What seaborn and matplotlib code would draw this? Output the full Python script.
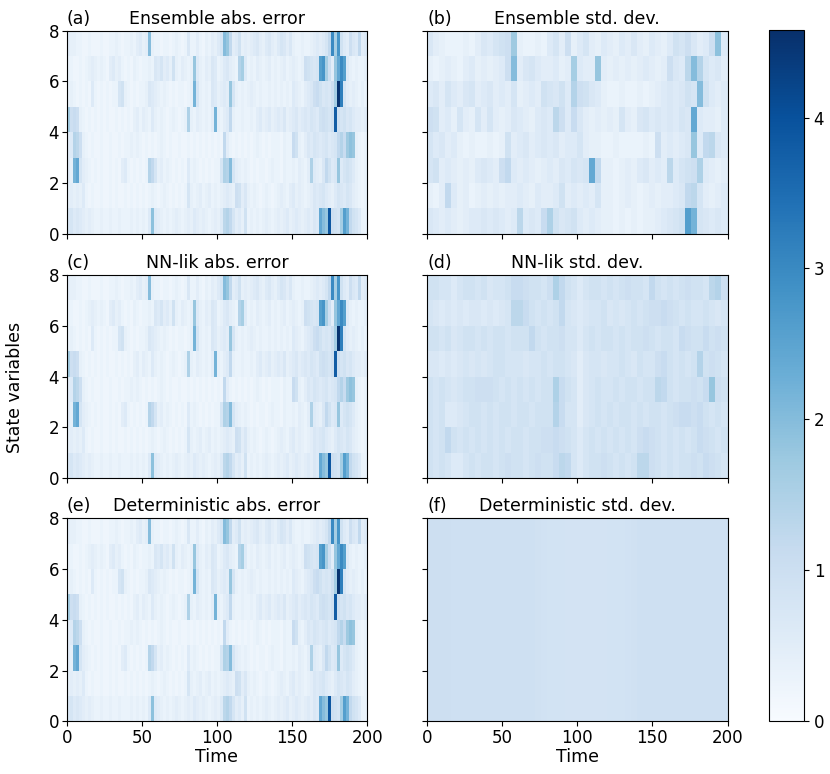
import numpy as np
import pandas as pd
import seaborn as sns
import matplotlib.pyplot as plt

T_MAX = 200
TIME_TICKS = [0, 50, 100, 150, 200]
STATE_TICKS = [0, 2, 4, 6, 8]
VMAX = 4.58

# absolute error, 8 state variables x 100 bins of 2 time units (row 0 = state 0)
# panels (a), (c) and (e) are the same by eye, so one reading serves all three
abs_err = [
    [0.7,0.8,0.6,0.7,0.6,0.5,0.4,0.5,0.4,0.3, 0.3,0.4,0.3,0.3,0.4,0.3,0.3,0.4,0.3,0.3,
     0.3,0.4,0.3,0.4,0.3,0.4,0.3,0.6,1.9,0.6, 0.5,0.4,0.3,0.4,0.3,0.4,0.5,0.4,0.3,0.4,
     0.5,0.4,0.6,0.5,0.4,0.5,0.4,0.3,0.4,0.5, 0.4,0.6,1.3,1.4,1.2,0.8,0.5,0.6,0.4,0.9,
     0.3,0.4,0.3,0.4,0.3,0.4,0.5,0.4,0.3,0.4, 0.5,0.4,0.5,0.6,0.4,0.5,0.6,0.5,0.4,0.5,
     0.6,0.5,0.7,0.6,2.4,2.0,1.8,3.9,1.0,0.9, 0.8,1.6,2.6,2.2,1.2,0.9,0.8,0.6,0.3,0.3],
    [0.4,0.5,0.4,0.5,0.4,0.6,0.3,0.2,0.3,0.2, 0.2,0.3,0.2,0.2,0.3,0.2,0.3,0.2,0.2,0.3,
     0.2,0.3,0.2,0.3,0.2,0.3,0.2,0.3,0.4,0.3, 0.2,0.3,0.4,0.3,0.2,0.3,0.2,0.3,0.2,0.3,
     0.8,0.4,0.3,0.4,0.5,0.3,0.4,0.5,0.3,0.4, 0.3,0.4,0.5,0.6,0.5,0.4,1.0,0.9,0.5,0.7,
     0.4,0.3,0.4,0.3,0.2,0.3,0.4,0.3,0.2,0.3, 0.4,0.5,0.4,0.3,0.5,0.6,0.4,0.5,0.4,0.3,
     0.4,0.5,0.7,0.6,0.7,0.8,0.6,0.5,0.4,0.6, 0.8,0.7,0.6,0.8,0.7,0.5,0.4,0.3,0.2,0.3],
    [0.5,0.4,2.2,2.4,0.8,0.5,0.4,0.3,0.2,0.3, 0.2,0.3,0.2,0.2,0.3,0.2,0.3,0.2,0.5,0.6,
     0.3,0.2,0.3,0.2,0.3,0.2,0.3,1.4,1.2,0.8, 0.4,0.5,0.3,0.4,0.3,0.2,0.3,0.2,0.3,0.2,
     0.6,0.3,0.4,0.3,0.2,0.3,0.2,0.3,0.2,0.3, 0.3,0.8,1.5,1.4,2.0,0.8,0.5,0.4,0.3,0.4,
     0.3,0.2,0.3,0.2,0.3,0.3,0.2,0.3,0.4,0.3, 0.3,0.2,0.4,0.3,0.3,0.4,0.3,0.5,0.4,0.3,
     0.5,1.5,0.6,0.5,0.4,0.7,1.2,0.9,0.6,0.7, 1.8,0.6,0.8,0.9,0.8,0.6,0.4,0.3,0.2,0.3],
    [0.5,0.6,1.4,1.3,1.0,0.4,0.3,0.2,0.3,0.2, 0.2,0.3,0.2,0.2,0.3,0.2,0.2,0.3,0.2,0.3,
     0.3,0.4,0.3,0.4,0.3,0.2,0.3,0.2,0.3,0.2, 0.3,0.4,0.3,0.2,0.3,0.2,0.2,0.3,0.2,0.2,
     0.3,0.2,0.3,0.2,0.3,0.2,0.3,0.2,0.3,0.2, 0.3,0.2,1.2,0.5,0.3,0.2,0.3,0.2,0.3,0.2,
     0.3,0.2,0.3,0.4,0.3,0.2,0.3,0.2,0.3,0.3, 0.3,0.2,0.4,0.3,0.3,1.1,0.9,0.4,0.3,0.5,
     0.7,0.6,0.8,0.7,0.6,0.7,0.8,0.6,0.7,0.8, 1.2,1.4,1.1,1.7,1.9,1.8,0.4,0.3,0.2,0.3],
    [1.6,1.0,1.1,1.0,0.4,0.3,0.2,0.3,0.2,0.3, 0.2,0.3,0.2,0.3,0.2,0.2,0.3,0.2,0.3,0.2,
     0.3,0.2,0.4,0.5,0.3,0.5,0.4,0.3,0.6,0.4, 0.3,0.4,0.3,0.2,0.3,0.4,0.3,0.2,0.3,0.4,
     1.5,0.4,0.3,0.5,0.4,0.3,0.4,0.3,0.5,2.2, 0.4,0.3,0.5,0.6,1.2,0.4,0.3,0.3,0.4,0.3,
     0.3,0.4,0.3,0.5,0.6,0.4,0.5,0.6,0.4,0.5, 0.6,0.5,0.7,0.4,0.5,0.6,0.7,0.5,0.6,0.7,
     0.6,0.8,0.7,0.6,0.9,1.0,0.9,0.8,1.0,3.8, 1.0,0.8,0.9,0.7,0.8,0.6,0.5,0.5,0.4,0.5],
    [0.3,0.4,0.3,0.2,0.3,0.2,0.3,0.2,0.6,0.3, 0.2,0.3,0.2,0.3,0.2,0.3,0.3,0.8,0.9,0.4,
     0.3,0.2,0.3,0.2,0.3,0.3,0.4,0.7,0.6,0.5, 0.4,0.3,0.4,0.3,0.2,0.3,0.2,0.3,0.3,0.2,
     0.3,0.4,2.2,0.8,0.4,0.3,0.4,0.3,0.7,0.6, 0.4,0.5,0.6,0.5,1.8,0.8,0.4,0.3,0.4,0.3,
     0.4,0.5,0.4,0.3,0.4,0.3,0.3,0.4,0.3,0.4, 0.3,0.4,0.3,0.4,0.3,0.6,0.5,0.4,0.3,0.5,
     0.6,0.7,1.0,1.1,0.9,0.7,0.8,0.7,1.0,1.6, 4.5,3.2,0.8,0.5,0.4,0.5,0.4,0.3,0.4,0.3],
    [0.3,0.3,0.2,0.2,0.3,0.2,0.3,0.4,0.5,0.4, 0.3,0.4,0.3,0.2,0.5,0.6,0.4,0.5,0.3,0.2,
     0.3,0.2,0.4,0.3,0.2,0.3,0.3,0.4,0.3,0.7, 0.6,0.8,0.5,0.6,0.4,0.9,0.4,0.3,0.5,0.4,
     0.3,0.4,1.8,0.6,0.4,0.3,0.5,0.4,0.7,0.6, 0.3,0.4,0.6,0.7,0.5,0.4,0.3,1.4,1.6,0.6,
     0.3,0.4,0.3,0.5,0.4,0.3,0.4,0.5,0.3,0.4, 0.3,0.4,0.5,0.3,0.4,0.5,0.4,0.3,0.4,1.0,
     0.9,0.8,0.7,0.8,2.6,2.8,1.6,1.0,0.5,1.8, 2.4,3.0,2.6,0.6,0.4,0.3,0.4,0.3,0.3,0.4],
    [0.5,0.4,0.4,0.3,0.3,0.2,0.2,0.3,0.2,0.2, 0.2,0.3,0.2,0.2,0.3,0.3,0.4,0.3,0.2,0.3,
     0.3,0.4,0.3,0.5,0.6,0.4,0.5,2.0,0.4,0.3, 0.3,0.2,0.3,0.3,0.2,0.3,0.4,0.3,0.2,0.3,
     0.7,0.3,0.3,0.5,0.3,0.2,0.4,0.3,0.5,0.4, 0.6,0.8,2.0,1.8,1.2,0.5,0.6,0.9,0.4,0.5,
     0.4,0.5,0.6,0.7,0.5,0.4,0.6,0.7,0.5,0.4, 0.6,0.8,0.7,0.5,0.7,0.4,0.3,0.3,0.4,0.3,
     0.3,0.4,0.5,0.6,0.5,0.6,0.8,1.2,3.0,1.6, 2.8,0.9,0.6,0.5,1.0,0.7,0.6,1.2,0.5,0.6],
]
ens_abs_err = abs_err
nnlik_abs_err = abs_err
det_abs_err = abs_err

# ensemble spread, 8 state variables x 50 bins of 4 time units
ens_std = [
    [0.7,0.6,0.5,0.6,0.5,0.4,0.5,0.6,0.6,0.7, 0.6,0.7,0.6,0.5,0.6,1.3,0.6,0.7,0.6,1.1,
     1.5,0.9,0.7,0.8,0.9,0.6,0.5,0.6,0.5,0.4, 0.4,0.3,0.4,0.3,0.4,0.3,0.4,0.4,0.5,0.6,
     0.7,0.8,0.9,2.6,2.2,0.8,0.7,0.6,0.7,0.6],
    [0.4,0.3,0.5,1.2,0.6,0.4,0.5,0.3,0.4,0.5, 0.4,0.5,0.4,0.5,0.5,0.6,0.5,0.4,0.6,0.5,
     0.5,0.6,0.9,0.5,0.6,0.5,0.6,0.5,0.8,0.4, 0.4,0.3,0.4,0.5,0.4,0.3,0.4,0.5,0.4,0.5,
     0.5,0.6,0.7,1.2,1.3,0.8,0.5,0.4,0.5,0.6],
    [0.8,0.9,0.5,0.6,0.5,0.4,0.5,0.4,0.6,0.7, 0.6,0.5,1.0,1.2,0.6,0.5,0.6,0.5,0.4,0.5,
     0.6,0.5,0.7,0.6,0.8,0.7,0.8,2.4,1.2,0.4, 0.4,0.3,0.4,0.5,0.4,0.6,0.7,0.5,0.6,0.5,
     1.3,0.6,0.8,0.9,1.0,1.5,0.6,0.5,0.4,0.5],
    [0.8,0.6,0.7,0.5,0.6,0.4,0.3,0.4,0.3,0.3, 0.4,0.3,0.4,0.9,0.5,0.6,0.7,0.5,0.6,0.7,
     0.6,0.7,0.5,0.6,0.6,0.8,0.5,0.4,0.4,0.3, 0.3,0.4,0.3,0.3,0.3,0.3,0.4,0.3,1.0,0.5,
     0.6,0.5,0.6,0.7,1.8,0.6,1.2,1.3,0.7,0.6],
    [1.0,0.9,0.5,0.6,0.4,0.8,0.5,0.4,0.8,0.5, 0.8,0.5,0.4,0.5,0.7,0.6,0.5,0.4,0.6,0.7,
     0.6,1.3,1.0,0.6,1.1,0.7,0.5,0.4,0.5,0.4, 0.5,0.4,0.8,0.5,0.4,0.7,0.8,0.6,0.7,0.6,
     0.7,0.6,0.8,0.7,2.4,0.6,0.5,0.5,0.4,0.6],
    [0.6,0.7,0.5,0.8,0.6,0.5,0.7,0.8,0.5,0.6, 0.7,0.5,0.6,0.5,0.8,0.4,0.5,0.6,0.5,0.9,
     0.8,0.7,0.9,0.6,1.4,1.0,0.9,0.7,0.6,0.4, 0.3,0.3,0.4,0.3,0.3,0.4,0.3,0.4,0.5,0.6,
     0.7,0.6,0.7,0.9,0.8,2.0,0.9,0.6,0.5,0.6],
    [0.4,0.3,0.4,0.5,0.4,0.3,0.5,0.6,0.4,0.5, 0.4,0.5,0.6,1.0,2.0,0.5,0.7,0.8,0.6,0.5,
     0.5,0.6,0.4,0.5,1.6,0.6,0.5,0.5,1.8,0.5, 0.4,0.5,0.4,0.5,0.4,0.5,0.6,0.5,0.4,0.5,
     1.0,0.7,0.6,1.3,2.0,1.4,0.8,0.6,0.7,0.5],
    [0.7,0.5,0.4,0.3,0.3,0.3,0.4,0.3,0.5,0.7, 0.6,0.8,0.9,1.0,1.7,0.4,0.3,0.3,0.4,0.3,
     0.6,0.8,0.5,1.0,0.4,0.6,0.8,0.5,0.4,0.6, 0.5,0.4,0.6,0.5,0.7,0.5,0.4,0.6,0.5,0.4,
     0.6,0.9,0.8,1.0,0.7,0.5,0.6,1.0,1.9,0.6],
]

# NN-lik predicted spread, 8 state variables x 50 bins of 4 time units
nnlik_std = [
    [0.9,0.8,0.9,0.8,0.6, 0.6,0.8,0.9,0.8,0.9, 0.9,0.8,0.9,1.0,0.9, 0.9,0.8,0.9,1.0,0.9,
     0.9,1.1,1.3,1.2,0.8, 0.6,0.8,0.9,0.9,1.0, 0.9,0.8,0.9,0.8,0.9, 1.3,1.3,1.0,0.9,0.8,
     0.9,0.8,0.9,0.9,1.0, 0.9,1.1,1.0,0.9,0.8],
    [0.9,0.8,0.9,1.2,0.9, 0.8,0.9,0.8,0.9,0.8, 0.9,0.8,0.9,0.8,0.9, 0.9,0.8,0.9,0.9,1.0,
     1.0,1.1,1.0,0.9,0.8, 0.6,0.8,0.9,0.8,0.9, 0.8,0.9,0.8,0.9,0.8, 1.0,1.1,1.0,0.9,0.8,
     0.9,0.8,0.9,0.8,0.9, 1.1,1.0,0.9,0.8,0.9],
    [0.9,0.8,0.9,0.6,0.6, 0.7,0.8,0.9,0.9,0.8, 0.9,0.8,0.9,0.9,0.8, 0.9,0.9,0.8,0.9,0.9,
     0.9,1.4,1.1,0.8,0.8, 0.5,0.7,0.8,0.9,0.8, 0.9,0.8,0.9,0.9,0.8, 0.9,0.8,0.9,0.9,0.8,
     0.9,1.0,1.1,1.1,1.0, 1.1,0.9,0.8,0.9,0.8],
    [0.9,0.8,0.9,0.8,0.7, 0.8,0.9,0.9,1.0,1.0, 1.0,0.9,0.8,0.9,0.8, 0.9,0.8,0.9,0.8,0.9,
     0.9,1.5,1.1,0.9,0.8, 0.5,0.7,0.8,0.9,0.8, 0.8,0.9,0.8,0.9,0.9, 0.8,0.9,0.9,1.3,1.2,
     0.9,0.8,0.9,0.9,1.0, 0.9,1.1,1.8,1.0,0.9],
    [0.7,0.7,0.6,0.7,0.6, 0.7,0.8,0.7,0.8,0.7, 0.8,0.9,0.9,0.8,0.8, 0.8,0.7,0.8,0.8,0.9,
     0.8,0.9,0.9,0.8,0.7, 0.5,0.7,0.8,0.8,0.7, 0.8,0.8,0.9,0.8,0.7, 0.9,0.8,0.8,1.0,1.1,
     0.9,0.8,0.9,0.8,0.9, 1.4,0.9,1.0,0.9,0.8],
    [0.9,0.9,0.8,0.9,0.7, 0.8,0.9,0.9,0.8,0.9, 0.8,0.9,0.9,0.8,0.9, 0.9,0.9,1.2,0.9,0.8,
     0.9,0.9,1.0,0.8,0.8, 0.6,0.8,0.9,0.8,0.9, 0.9,0.8,0.9,0.8,0.9, 0.9,1.0,0.9,0.8,0.9,
     0.9,0.8,1.1,1.0,0.9, 0.9,1.1,0.9,1.0,0.9],
    [0.8,0.7,0.6,0.7,0.6, 0.7,0.6,0.7,0.7,0.6, 0.7,0.6,0.7,0.8,1.3, 1.3,1.1,0.9,0.8,0.9,
     0.8,0.9,1.2,0.8,0.7, 0.6,0.7,0.8,0.8,0.9, 0.7,0.8,0.7,0.8,0.9, 0.8,0.9,1.0,1.0,1.1,
     1.0,0.9,0.8,0.9,0.8, 0.8,0.9,0.8,0.7,0.8],
    [0.9,0.9,0.8,0.8,0.6, 0.8,0.9,0.9,0.8,0.9, 0.7,0.8,0.8,0.9,1.1, 1.1,1.0,0.9,0.9,0.8,
     1.0,1.5,1.2,0.9,0.8, 0.6,0.8,0.9,0.9,0.8, 0.9,0.8,0.9,1.0,0.9, 0.9,0.8,1.2,0.9,0.8,
     0.9,0.8,0.9,1.0,0.9, 0.9,0.8,1.3,1.4,1.0],
]

# deterministic model: same spread for every state variable, 50 bins of 4 time units
det_std_t = [1.0,1.0,1.0,1.0,0.95, 0.95,0.95,0.95,0.95,0.95, 0.95,0.95,0.95,0.95,0.95,
             0.95,0.95,0.95,0.93,0.88, 0.86,0.86,0.86,0.85,0.85, 0.85,0.85,0.85,0.85,0.85,
             0.86,0.86,0.86,0.88,0.93, 0.95,0.95,0.95,0.95,0.95, 0.95,0.95,0.95,0.95,0.95,
             0.95,0.95,0.95,0.95,0.95]
det_std = [det_std_t for _ in range(8)]

panels = [
    ("(a)", "Ensemble abs. error", ens_abs_err),
    ("(b)", "Ensemble std. dev.", ens_std),
    ("(c)", "NN-lik abs. error", nnlik_abs_err),
    ("(d)", "NN-lik std. dev.", nnlik_std),
    ("(e)", "Deterministic abs. error", det_abs_err),
    ("(f)", "Deterministic std. dev.", det_std),
]

W, H = 830, 774
fig = plt.figure(figsize=(W / 100, H / 100), dpi=100)
lefts = [66.7, 427]
tops = [30.7, 275, 518.3]
aw, ah = 300.5, 203
cax = fig.add_axes([769.3 / W, 1 - 721 / H, 34.7 / W, 691 / H])

FS = 12.5
TFS = 12
cbar = None
for i, (tag, title, vals) in enumerate(panels):
    r, c = divmod(i, 2)
    ax = fig.add_axes([lefts[c] / W, 1 - (tops[r] + ah) / H, aw / W, ah / H])
    df = pd.DataFrame(vals)
    sns.heatmap(df, ax=ax, cmap="Blues", vmin=0, vmax=VMAX,
                cbar=(i == 0), cbar_ax=cax if i == 0 else None,
                xticklabels=False, yticklabels=False)
    if i == 0:
        cbar = ax.collections[0].colorbar
    ax.invert_yaxis()
    for s in ax.spines.values():
        s.set_visible(True)
        s.set_color("black")
        s.set_linewidth(0.8)
    scale = df.shape[1] / T_MAX
    ax.set_xticks([t * scale for t in TIME_TICKS])
    ax.set_xticklabels(TIME_TICKS if r == 2 else [])
    ax.set_yticks(STATE_TICKS)
    ax.set_yticklabels(STATE_TICKS if c == 0 else [], rotation=0)
    ax.tick_params(labelsize=TFS, length=3.5, width=0.8, direction="out", pad=2)
    ax.set_title(title, fontsize=FS, pad=5)
    ax.set_title(tag, loc="left", fontsize=FS, pad=5)
    ax.set_xlabel("Time" if r == 2 else "", fontsize=FS, labelpad=1)
    ax.set_ylabel("")

cbar.set_ticks([0, 1, 2, 3, 4])
cbar.outline.set_visible(True)
cbar.outline.set_linewidth(0.8)
cbar.outline.set_edgecolor("black")
cax.tick_params(labelsize=TFS, length=3.5, width=0.8)

fig.text(15 / W, 0.5, "State variables", rotation=90, va="center", ha="center", fontsize=FS)

fig.savefig("out.png", dpi=100)
